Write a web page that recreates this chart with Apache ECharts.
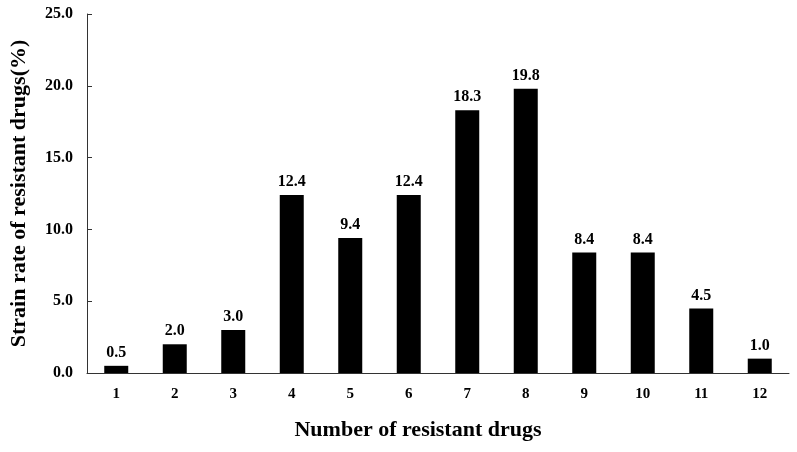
<!DOCTYPE html>
<html>
<head>
<meta charset="utf-8">
<script src="https://cdn.jsdelivr.net/npm/echarts@6/dist/echarts.min.js"></script>
<style>
    html, body { margin: 0; padding: 0; background: #fff; }
    #chart { width: 797px; height: 452px; }
</style>
</head>
<body>
<div id="chart"></div>
<script>
// number of resistant drugs and strain rate (%)
const drugCounts = ['1', '2', '3', '4', '5', '6', '7', '8', '9', '10', '11', '12'];
const strainRates = [0.5, 2.0, 3.0, 12.4, 9.4, 12.4, 18.3, 19.8, 8.4, 8.4, 4.5, 1.0];

const serif = '"Liberation Serif", "Times New Roman", serif';
const myChart = echarts.init(document.getElementById('chart'));

const option = {
    animation: false,
    grid: {
        left: 86,
        right: 8,
        top: 14,
        bottom: 79
    },
    xAxis: {
        type: 'category',
        data: drugCounts,
        name: 'Number of resistant drugs',
        nameLocation: 'middle',
        nameGap: 46,
        nameTextStyle: {
            fontFamily: serif,
            fontWeight: 'bold',
            fontSize: 22,
            color: '#000',
            // the title sits a little left of the axis centre
            padding: [0, 40, 0, 0]
        },
        axisLine: {lineStyle: {color: '#333', width: 1}},
        axisTick: {inside: true, length: 5, lineStyle: {color: '#333'}},
        axisLabel: {
            fontFamily: serif,
            fontWeight: 'bold',
            fontSize: 15,
            color: '#000',
            margin: 14
        }
    },
    yAxis: {
        type: 'value',
        min: 0,
        max: 25,
        interval: 5,
        name: 'Strain rate of resistant drugs(%)',
        nameLocation: 'middle',
        nameGap: 57,
        nameTextStyle: {
            fontFamily: serif,
            fontWeight: 'bold',
            fontSize: 22,
            color: '#000'
        },
        axisLine: {show: true, lineStyle: {color: '#333', width: 1}},
        axisTick: {show: true, inside: true, length: 5, lineStyle: {color: '#333'}},
        splitLine: {show: false},
        axisLabel: {
            fontFamily: serif,
            fontWeight: 'bold',
            fontSize: 16,
            color: '#000',
            margin: 14,
            formatter: v => v.toFixed(1)
        }
    },
    series: [
        {
            type: 'bar',
            data: strainRates,
            barWidth: 24,
            itemStyle: {color: '#000'},
            label: {
                show: true,
                position: 'top',
                distance: 5,
                fontFamily: serif,
                fontWeight: 'bold',
                fontSize: 16,
                color: '#000',
                formatter: p => p.value.toFixed(1)
            }
        }
    ]
};

option && myChart.setOption(option);
</script>
</body>
</html>
